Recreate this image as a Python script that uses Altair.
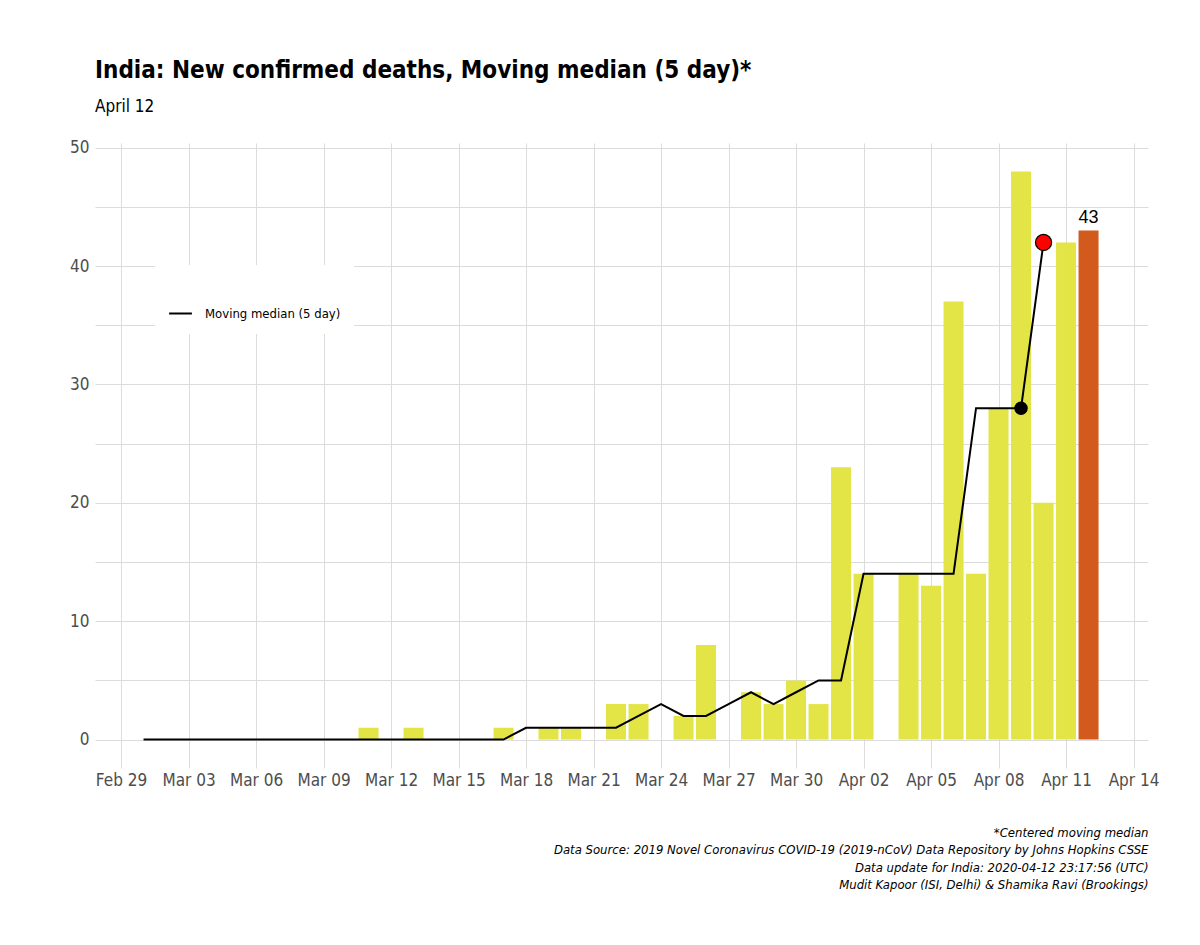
import altair as alt
import pandas as pd

# ---- data ----
dates = pd.date_range("2020-03-01", "2020-04-12", freq="D").strftime("%Y-%m-%d").tolist()
deaths = [0, 0, 0, 0, 0, 0, 0, 0, 0, 0,      # Mar 01-10
          1, 0, 1, 0, 0, 0, 1, 0, 1, 1,      # Mar 11-20
          0, 3, 3, 0, 2, 8, 0, 4, 3, 5, 3,   # Mar 21-31
          23, 14, 0, 14, 13, 37, 14, 28, 48, 20, 42, 43]  # Apr 01-12
median_dates = dates[:-2]  # Mar 01 .. Apr 10
median_vals = [0] * 17 + [1, 1, 1, 1, 1,                 # Mar 01-22
               2, 3, 2, 2, 3, 4, 3, 4, 5,               # Mar 23-31
               5, 14, 14, 14, 14, 14, 28, 28, 28, 42]   # Apr 01-10
series_name = "Moving median (5 day)"
title_text = "India: New confirmed deaths, Moving median (5 day)*"
subtitle_text = "April 12"
caption_lines = [
    "*Centered moving median",
    "Data Source: 2019 Novel Coronavirus COVID-19 (2019-nCoV) Data Repository by Johns Hopkins CSSE",
    "Data update for India: 2020-04-12 23:17:56 (UTC)",
    "Mudit Kapoor (ISI, Delhi) & Shamika Ravi (Brookings)",
]

NARROW = "'Liberation Sans Narrow', 'Arial Narrow', 'DejaVu Sans Condensed', sans-serif"

bars = pd.DataFrame({"date": dates, "deaths": deaths})
bars["kind"] = ["latest" if d == dates[-1] else "past" for d in dates]
line = pd.DataFrame({"date": median_dates, "median": median_vals, "series": series_name})
pts = line.tail(2).copy()
pts["fill"] = ["black", "red"]
pts["size"] = [150, 260]
last = bars.tail(1)

tick_values = [int(t.value // 10**6) for t in pd.date_range("2020-02-29", "2020-04-14", freq="36h", tz="UTC")]

xscale = alt.Scale(type="utc", nice=False, padding=0,
                   domain=[alt.DateTime(year=2020, month=2, date=27, hours=20, minutes=15, utc=True),
                           alt.DateTime(year=2020, month=4, date=14, hours=15, minutes=25, utc=True)])
yscale = alt.Scale(domain=[-2.4, 50.4], nice=False, zero=False, padding=0)

xaxis = alt.Axis(values=tick_values,
                 labelExpr="utchours(datum.value) == 12 ? '' : utcFormat(datum.value, '%b %d')",
                 title=caption_lines, titleAnchor="end", titleAlign="right",
                 titleFont=NARROW, titleFontStyle="italic", titleFontWeight="normal",
                 titleFontSize=13, titleLineHeight=17.6, titleColor="black", titlePadding=38,
                 labelPadding=4, labelAngle=0)
yaxis = alt.Axis(values=list(range(0, 51, 5)),
                 labelExpr="datum.value % 10 == 0 ? datum.label : ''",
                 title=None, labelPadding=6)

x = alt.X("date:T", scale=xscale, axis=xaxis)

bar_layer = alt.Chart(bars).mark_bar(size=20).encode(
    x=x,
    y=alt.Y("deaths:Q", scale=yscale, axis=yaxis),
    y2=alt.datum(0),
    color=alt.Color("kind:N", scale=alt.Scale(domain=["past", "latest"], range=["#e3e446", "#d25a1d"]), legend=None),
)

line_layer = alt.Chart(line).mark_line(strokeWidth=2).encode(
    x=alt.X("date:T", scale=xscale),
    y=alt.Y("median:Q", scale=yscale),
    color=alt.Color("series:N", scale=alt.Scale(range=["black"]),
                    legend=alt.Legend(title=" ", orient="none", legendX=60, legendY=122,
                                      fillColor="white", padding=13, titleFontSize=14, titlePadding=9,
                                      symbolType="stroke", symbolStrokeWidth=2, symbolSize=520,
                                      labelFont=NARROW, labelFontSize=13, labelColor="black",
                                      labelOffset=12)),
)

pt_layer = alt.Chart(pts).mark_point(filled=True, stroke="black", strokeWidth=1.2, opacity=1).encode(
    x=alt.X("date:T", scale=xscale),
    y=alt.Y("median:Q", scale=yscale),
    fill=alt.Fill("fill:N", scale=None),
    size=alt.Size("size:Q", scale=None),
)

txt_layer = alt.Chart(last).mark_text(dy=-13, fontSize=18, font="Liberation Sans", color="black").encode(
    x=alt.X("date:T", scale=xscale),
    y=alt.Y("deaths:Q", scale=yscale),
    text=alt.Text("deaths:Q"),
)

chart = alt.layer(bar_layer, line_layer, pt_layer, txt_layer).resolve_scale(
    color="independent"
).properties(
    width=1053, height=625,
    autosize=alt.AutoSizeParams(type="none"),
    padding={"left": 87, "top": 135, "right": 30, "bottom": 150},
    title=alt.TitleParams(text=title_text, subtitle=subtitle_text, anchor="start", frame="group",
                          font=NARROW, fontSize=24, fontWeight="bold", color="black",
                          subtitleFont=NARROW, subtitleFontSize=17, subtitleColor="black",
                          subtitlePadding=16, offset=24),
).configure_view(stroke=None).configure_axis(
    grid=True, gridColor="#dcdcdc", gridWidth=1, domain=False, ticks=False,
    labelFont=NARROW, labelFontSize=17, labelColor="#4d4d4d",
)

chart.save("out.html", embed_options={"renderer": "svg", "actions": False})
